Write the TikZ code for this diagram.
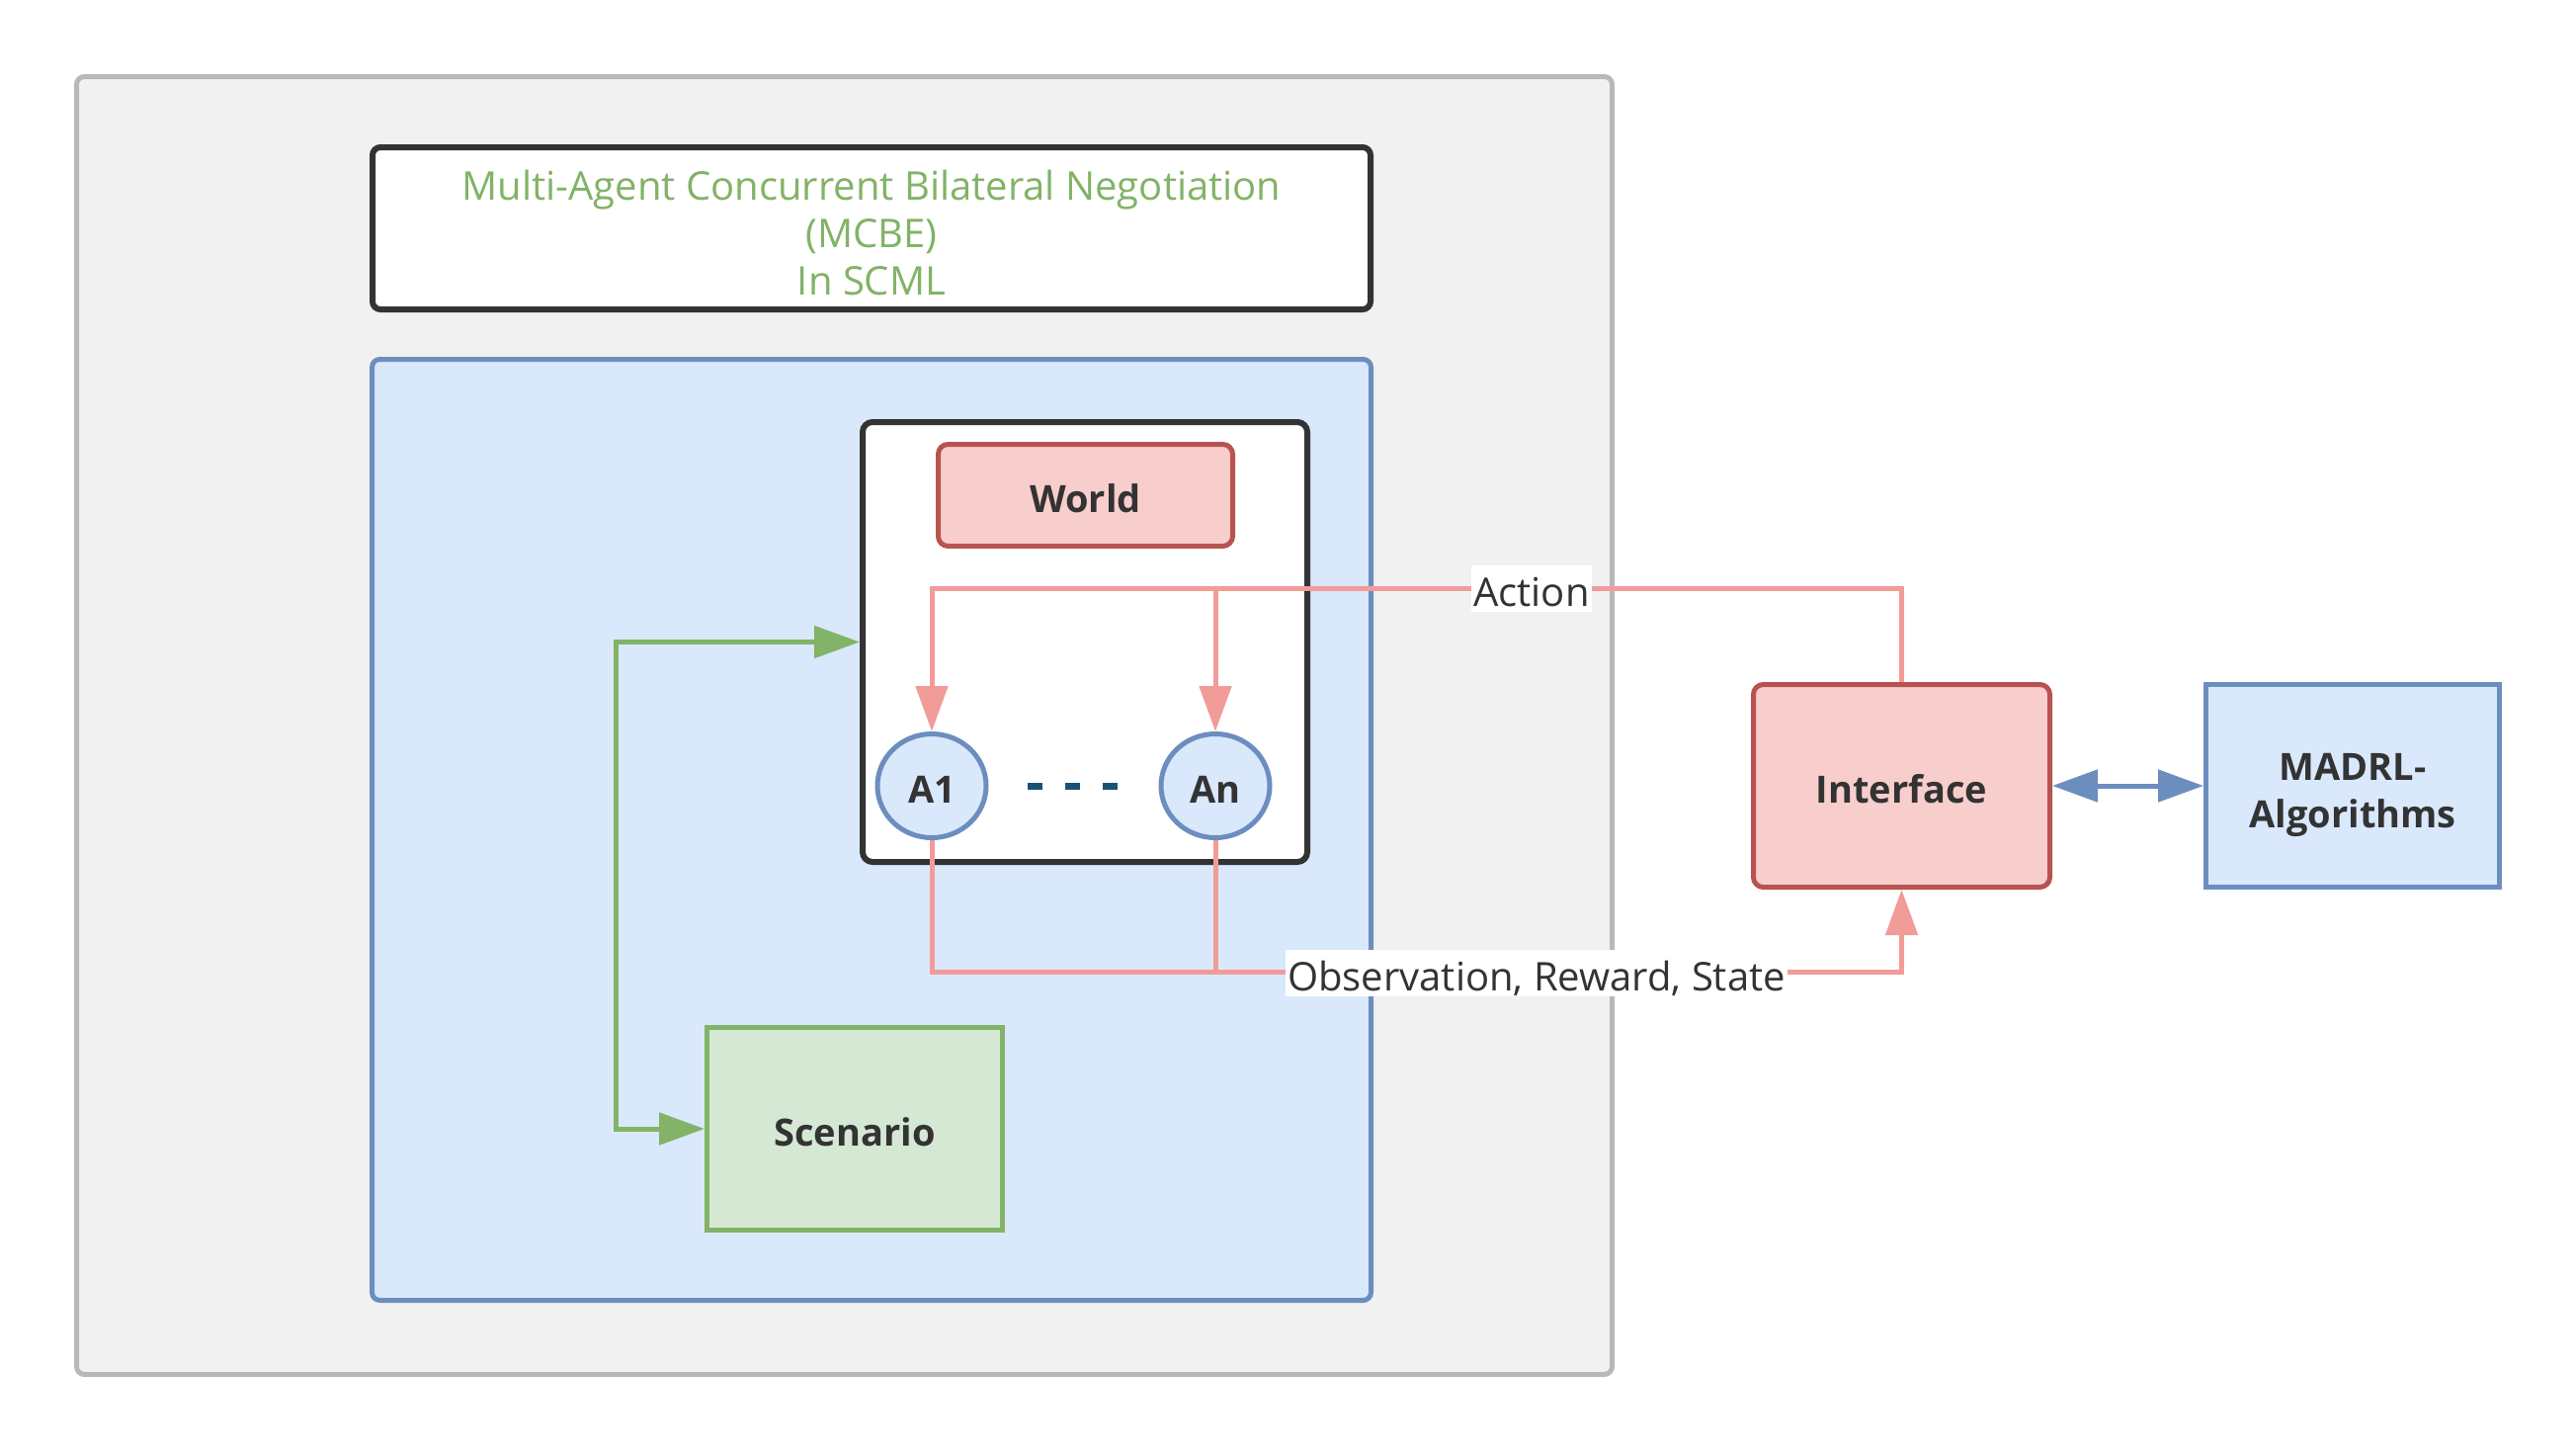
\documentclass[tikz,border=0pt]{standalone}
\usepackage{fontspec}
\setmainfont{Open Sans}
\usetikzlibrary{arrows.meta,shapes.geometric}
\definecolor{greybg}{HTML}{F1F1F1}
\definecolor{greyst}{HTML}{B8B8B8}
\definecolor{darkst}{HTML}{333333}
\definecolor{bluefill}{HTML}{DAE8FC}
\definecolor{bluest}{HTML}{6C8EBF}
\definecolor{redfill}{HTML}{F8CECC}
\definecolor{redst}{HTML}{B85450}
\definecolor{greenfill}{HTML}{D5E8D4}
\definecolor{greenst}{HTML}{82B366}
\definecolor{pinkline}{HTML}{F19C99}
\definecolor{txt}{HTML}{333333}
\definecolor{dotcol}{HTML}{1A5276}
\newcommand\mystack[2]{\raisebox{0pt}[#1][0pt]{\begin{tabular}[b]{@{}c@{}}#2\end{tabular}}}
\begin{document}
\begin{tikzpicture}[x=1pt,y=-1pt,
  box/.style={draw, line width=5pt, inner sep=0pt, text=txt, align=center,
    font=\fontsize{38}{48}\selectfont\bfseries},
  one/.style={text height=34pt, text depth=0pt},
  lbl/.style={fill=white, inner sep=2pt, text=txt, text height=40pt, text depth=3pt,
    font=\fontsize{40}{48}\selectfont},
  pk/.style={draw=pinkline, line width=5pt},
  gr/.style={draw=greenst, line width=5pt},
  bl/.style={draw=bluest, line width=5pt},
  tri/.tip={Triangle[length=46pt,width=32pt]}
]
\useasboundingbox (0,0) rectangle (2607,1470);
\fill[white] (0,0) rectangle (2607,1470);

% containers
\node[box, draw=greyst, fill=greybg, rounded corners=8pt,
  minimum width=1554pt, minimum height=1313pt] (outer) at (854.5,734) {};
\node[box, draw=darkst, fill=white, line width=6pt, rounded corners=8pt,
  minimum width=1010pt, minimum height=164pt, text=greenst,
  font=\fontsize{40}{48}\selectfont] (title) at (882,231)
  {\mystack{134pt}{Multi-Agent Concurrent Bilateral Negotiation\\(MCBE)\\In SCML}};
\node[box, draw=bluest, fill=bluefill, rounded corners=8pt,
  minimum width=1011pt, minimum height=952pt] (env) at (882,839.5) {};
\node[box, draw=darkst, fill=white, line width=6pt, rounded corners=10pt,
  minimum width=450pt, minimum height=445pt] (wc) at (1098,649.5) {};

% inner nodes
\node[box, one, draw=redst, fill=redfill, rounded corners=10pt,
  minimum width=298pt, minimum height=103pt] (world) at (1098.5,501) {World};
\node[box, one, ellipse, draw=bluest, fill=bluefill,
  minimum width=110pt, minimum height=105pt] (A1) at (943,795) {A1};
\node[box, one, ellipse, draw=bluest, fill=bluefill,
  minimum width=110pt, minimum height=105pt] (An) at (1230,795) {An};
\node[box, one, draw=greenst, fill=greenfill,
  minimum width=299pt, minimum height=205pt] (scen) at (865,1142) {Scenario};
\node[box, one, draw=redst, fill=redfill, rounded corners=10pt,
  minimum width=300pt, minimum height=205pt] (iface) at (1924.5,795) {Interface};
\node[box, draw=bluest, fill=bluefill,
  minimum width=297pt, minimum height=205pt] (madrl) at (2381,795)
  {\mystack{84pt}{MADRL-\\Algorithms}};

% dots
\coordinate (d1) at (1040,795);
\coordinate (d2) at (1135,795);
\draw[dotcol, line width=7pt, dash pattern=on 15pt off 23pt] (d1) -- (d2);

% action connector
\coordinate (actY) at (0,595);
\draw[pk, -tri] (iface.north) -- (iface.north |- actY) -| (A1.north);
\draw[pk, -tri] (An.north |- actY) -- (An.north);
\node[lbl] (actlbl) at (1550,595) {Action};

% observation connector
\coordinate (obsY) at (0,983);
\draw[pk, -tri] (A1.south) |- (iface.south |- obsY) -- (iface.south);
\draw[pk] (An.south) -- (An.south |- obsY);
\node[lbl] (obslbl) at (1555,984) {Observation, Reward, State};

% scenario <-> world
\coordinate (gx) at (623,0);
\draw[gr, tri-tri] (scen.west) -- (gx |- scen.west) |- (wc.west);

% interface <-> madrl
\draw[bl, tri-tri] (iface.east) -- (madrl.west);
\end{tikzpicture}
\end{document}
